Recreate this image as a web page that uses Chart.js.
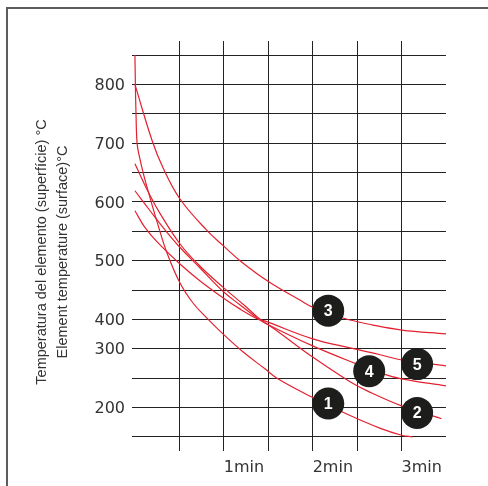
<!DOCTYPE html>
<html>
<head>
<meta charset="utf-8">
<script src="https://cdn.jsdelivr.net/npm/chart.js"></script>
<style>
  html, body { margin: 0; padding: 0; background: #fff; }
  #wrap { position: relative; width: 488px; height: 486px; overflow: hidden; }
  #frame { position: absolute; left: 6px; top: 7px; right: -10px; bottom: -10px; border-left: 2px solid #5c5c5c; border-top: 2px solid #5c5c5c; }
  canvas { position: absolute; left: 0; top: 0; }
</style>
</head>
<body>
<div id="wrap">
  <div id="frame"></div>
  <canvas id="chart" width="488" height="486"></canvas>
</div>
<script>
// temperature of each horizontal grid line, bottom to top (300 -> 400 is a single step on this chart)
const tempGrid = [150, 200, 250, 300, 400, 450, 500, 550, 600, 650, 700, 750, 800, 850];
const tempLabels = [200, 300, 400, 500, 600, 700, 800];
const timeGrid = [0.5, 1, 1.5, 2, 2.5, 3];
const timeLabels = { 1: "1min", 2: "2min", 3: "3min" };
const yTitle = ["Temperatura del elemento (superfície) °C", "Element temperature (surface)°C"];

// curves, time in minutes / temperature in °C
const curve1Time = [0, 0.005, 0.012, 0.024, 0.046, 0.102, 0.17, 0.249, 0.361, 0.507, 0.653, 0.799, 0.99, 1.215, 1.463, 1.598, 1.99, 2.384, 2.755, 3.0, 3.127];
const curve1Temp = [850, 800, 750, 700, 680, 644, 607, 566, 513, 462, 428, 404, 351, 295, 266, 250, 218, 189, 165, 153, 150];
const curve2Time = [0, 0.14, 0.28, 0.51, 0.73, 0.99, 1.24, 1.38, 1.63, 2.0, 2.42, 2.62, 3.0, 3.45];
const curve2Temp = [665, 620, 581, 528, 491, 455, 423, 404, 354, 286, 244, 228, 203, 181];
const curve3Time = [0, 0.192, 0.316, 0.507, 0.807, 0.99, 1.182, 1.497, 1.856, 2.0, 2.35, 2.677, 3.0, 3.5];
const curve3Temp = [800, 705, 658, 605, 552, 526, 500, 465, 433, 421, 402, 381, 364, 351];
const curve4Time = [0, 0.17, 0.34, 0.51, 0.73, 0.99, 1.18, 1.38, 1.46, 2.0, 2.5, 2.8, 3.0, 3.5];
const curve4Temp = [619, 585, 552, 522, 488, 448, 425, 402, 388, 310, 274, 257, 249, 237];
const curve5Time = [0, 0.11, 0.25, 0.51, 0.73, 0.99, 1.18, 1.38, 1.46, 2.0, 2.42, 2.76, 3.0, 3.5];
const curve5Temp = [585, 557, 532, 494, 466, 437, 418, 401, 395, 334, 303, 290, 281, 271];

// numbered markers
const markerLabels = ["1", "2", "3", "4", "5"];
const markerTime = [2.175, 3.175, 2.175, 2.636, 3.175];
const markerTemp = [207, 191, 415, 262, 274];

const font = "'Liberation Sans', Arial, sans-serif";
const tickFont = "'DejaVu Sans', sans-serif";
const red = "#e4202f";

function tempToPos(t) {
    for (let i = 0; i < tempGrid.length - 1; i++) {
        if (t <= tempGrid[i + 1]) return i + (t - tempGrid[i]) / (tempGrid[i + 1] - tempGrid[i]);
    }
    return tempGrid.length - 1;
}
const toPoints = (times, temps) => times.map((x, i) => ({ x: x, y: tempToPos(temps[i]) }));

function curve(times, temps) {
    return {
        data: toPoints(times, temps),
        borderColor: red,
        borderWidth: 1.2,
        pointRadius: 0,
        fill: false,
        tension: 0.4
    };
}

// numbers on the black dots + the two-line axis title
const extraText = {
    id: "extraText",
    afterDatasetsDraw(chart) {
        const ctx = chart.ctx;
        const meta = chart.getDatasetMeta(0);
        ctx.save();
        ctx.fillStyle = "#fff";
        ctx.font = "bold 16px " + font;
        ctx.textAlign = "center";
        ctx.textBaseline = "middle";
        meta.data.forEach((pt, i) => ctx.fillText(markerLabels[i], pt.x, pt.y + 1));
        ctx.restore();

        ctx.save();
        ctx.fillStyle = "#333";
        ctx.font = "14.5px " + font;
        ctx.textAlign = "center";
        ctx.textBaseline = "middle";
        yTitle.forEach((line, i) => {
            ctx.save();
            ctx.translate(42 + i * 21, 252);
            ctx.rotate(-Math.PI / 2);
            ctx.fillText(line, 0, 0);
            ctx.restore();
        });
        ctx.restore();
    }
};

new Chart(document.getElementById("chart"), {
    type: "line",
    data: {
        datasets: [
            {
                data: toPoints(markerTime, markerTemp),
                showLine: false,
                pointRadius: 16,
                pointHoverRadius: 16,
                pointBorderWidth: 0,
                pointBackgroundColor: "#1d1d1b"
            },
            curve(curve1Time, curve1Temp),
            curve(curve2Time, curve2Temp),
            curve(curve3Time, curve3Temp),
            curve(curve4Time, curve4Temp),
            curve(curve5Time, curve5Temp)
        ]
    },
    options: {
        responsive: false,
        animation: false,
        layout: { padding: { top: 41, right: 42, bottom: 0, left: 0 } },
        plugins: { legend: { display: false }, tooltip: { enabled: false } },
        scales: {
            x: {
                type: "linear",
                min: -0.033,
                max: 3.5,
                afterBuildTicks: s => { s.ticks = timeGrid.map(v => ({ value: v })); },
                afterFit: s => { s.height = 35; },
                border: { display: false },
                grid: { color: "#222", lineWidth: 1, drawTicks: false },
                ticks: {
                    align: "start",
                    padding: 7,
                    autoSkip: false,
                    maxRotation: 0,
                    color: "#333",
                    font: { family: tickFont, size: 16 },
                    callback: v => timeLabels[v] || ""
                }
            },
            y: {
                type: "linear",
                min: -0.477,
                max: 13.477,
                afterBuildTicks: s => { s.ticks = tempGrid.map((_, i) => ({ value: i })); },
                afterFit: s => { s.width = 132; },
                border: { display: false },
                grid: { color: "#222", lineWidth: 1, drawTicks: false },
                ticks: {
                    padding: 7,
                    labelOffset: 1.5,
                    autoSkip: false,
                    color: "#333",
                    font: { family: tickFont, size: 16 },
                    callback: v => tempLabels.includes(tempGrid[v]) ? String(tempGrid[v]) : ""
                }
            }
        }
    },
    plugins: [extraText]
});
</script>
</body>
</html>
